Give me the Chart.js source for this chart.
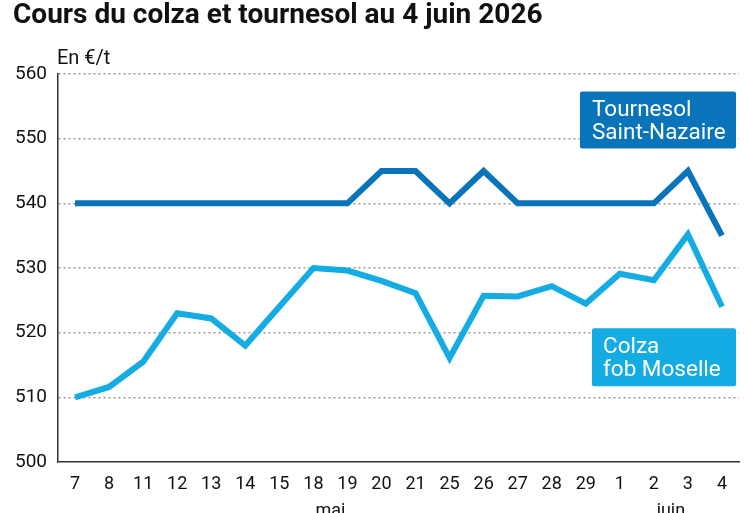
<!DOCTYPE html>
<html>
<head>
<meta charset="utf-8">
<script src="https://cdn.jsdelivr.net/npm/chart.js@4.4.1/dist/chart.umd.min.js"></script>
<style>
  html, body { margin: 0; padding: 0; background: #fff; font-family: Roboto, sans-serif; }
  #wrap { width: 747px; height: 513px; position: relative; }
</style>
</head>
<body>
<div id="wrap"><canvas id="chart" width="747" height="513"></canvas></div>
<script>
const days = ['7', '8', '11', '12', '13', '14', '15', '18', '19', '20', '21', '25', '26', '27', '28', '29', '1', '2', '3', '4'];
const tournesol = [540, 540, 540, 540, 540, 540, 540, 540, 540, 545, 545, 540, 545, 540, 540, 540, 540, 540, 545, 535];
const colza = [510, 511.6, 515.5, 523, 522.2, 518, 524, 530, 529.6, 528, 526.1, 516.1, 525.7, 525.6, 527.2, 524.5, 529.1, 528.1, 535.2, 524];
const yTicks = [500, 510, 520, 530, 540, 550, 560];
const months = [{ label: 'mai', at: 7.5 }, { label: 'juin', at: 17.5 }];

const darkBlue = '#0a74bb';
const lightBlue = '#14ace3';
const fontName = 'Roboto';

// title, unit, month names and the two series tags
const decorations = {
    id: 'decorations',
    afterDraw(chart) {
        const ctx = chart.ctx;
        const x = chart.scales.x;
        const y = chart.scales.y;
        const area = chart.chartArea;
        ctx.save();
        ctx.fillStyle = '#111';
        ctx.textBaseline = 'alphabetic';
        ctx.textAlign = 'left';
        ctx.font = 'bold 28px ' + fontName;
        ctx.fillText('Cours du colza et tournesol au 4 juin 2026', 13, 23);

        ctx.font = '20px ' + fontName;
        ctx.fillText('En €/t', 57, 64);

        ctx.font = '18px ' + fontName;
        ctx.textAlign = 'center';
        months.forEach(m => {
            const px = x.getPixelForValue(m.at);
            ctx.fillText(m.label, px, 516);
        });

        function tag(lines, color, left, top, w, h, textX) {
            ctx.fillStyle = color;
            ctx.beginPath();
            ctx.roundRect(left, top, w, h, 2);
            ctx.fill();
            ctx.fillStyle = '#fff';
            ctx.textAlign = 'left';
            ctx.font = '22.5px ' + fontName;
            lines.forEach((l, i) => ctx.fillText(l, textX, top + 25 + i * 23));
        }
        tag(['Tournesol', 'Saint-Nazaire'], darkBlue, 580, y.getPixelForValue(557.3), area.right - 3 - 580, 57, 592);
        tag(['Colza', 'fob Moselle'], lightBlue, 592, y.getPixelForValue(520.7), area.right - 3 - 592, 58, 603);
        ctx.restore();
    }
};

function draw() {
    new Chart(document.getElementById('chart'), {
        type: 'line',
        data: {
            labels: days,
            datasets: [
                {
                    label: 'Tournesol Saint-Nazaire',
                    data: tournesol,
                    borderColor: darkBlue,
                    borderWidth: 6,
                    pointRadius: 0,
                    tension: 0,
                    borderJoinStyle: 'miter'
                },
                {
                    label: 'Colza fob Moselle',
                    data: colza,
                    borderColor: lightBlue,
                    borderWidth: 6,
                    pointRadius: 0,
                    tension: 0,
                    borderJoinStyle: 'miter'
                }
            ]
        },
        options: {
            responsive: false,
            animation: false,
            layout: { padding: { top: 74, right: 8, left: 0, bottom: 0 } },
            plugins: {
                legend: { display: false },
                tooltip: { enabled: false }
            },
            scales: {
                x: {
                    offset: true,
                    grid: { display: false, drawTicks: false },
                    border: { display: true, color: '#333', width: 1.5 },
                    ticks: {
                        color: '#111',
                        font: { family: fontName, size: 18 },
                        padding: 12,
                        maxRotation: 0,
                        autoSkip: false
                    },
                    afterFit(scale) { scale.height = 51; }
                },
                y: {
                    min: 500,
                    max: 560,
                    afterBuildTicks(scale) { scale.ticks = yTicks.map(v => ({ value: v })); },
                    grid: {
                        color: (c) => c.tick && c.tick.value === 500 ? 'rgba(0,0,0,0)' : '#999',
                        lineWidth: 1.5,
                        drawTicks: false
                    },
                    border: { display: true, color: '#333', width: 1.5, dash: [2, 3] },
                    ticks: {
                        color: '#111',
                        font: { family: fontName, size: 19 },
                        padding: 11
                    },
                    afterFit(scale) { scale.width = 58; }
                }
            }
        },
        plugins: [decorations]
    });
}

Promise.all([
    document.fonts.load('18px Roboto'),
    document.fonts.load('bold 28px Roboto')
]).then(draw, draw);
</script>
</body>
</html>
